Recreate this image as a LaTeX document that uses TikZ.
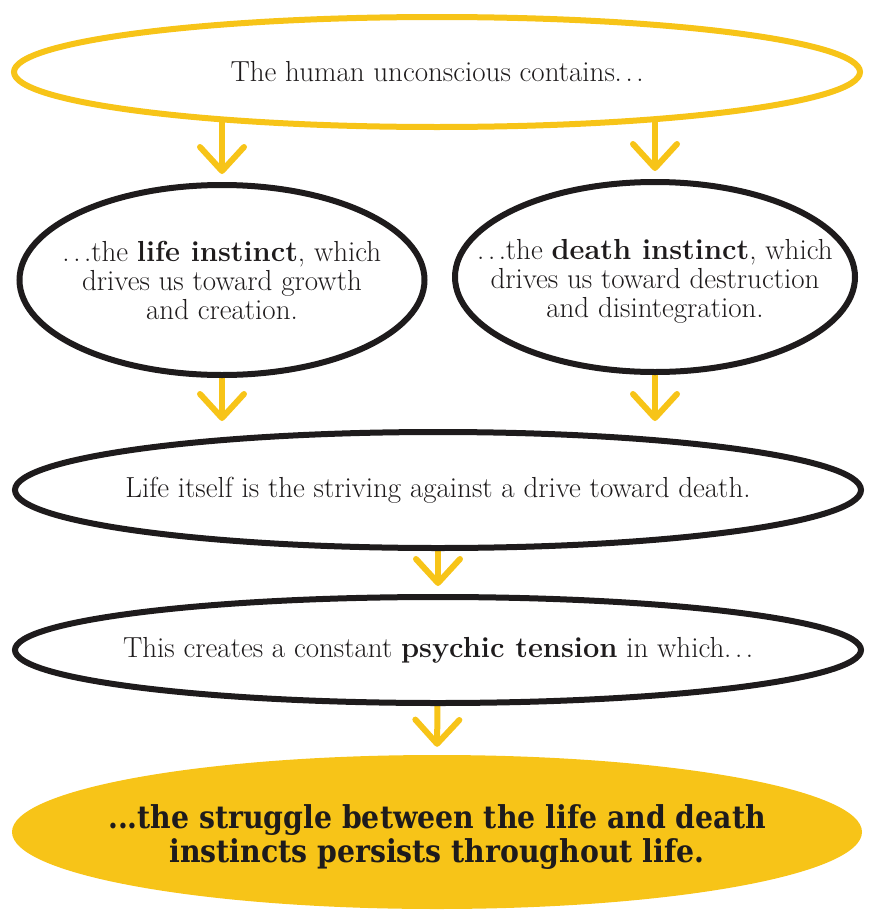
\documentclass[tikz,border=0pt]{standalone}
\usepackage{fontspec}
\usepackage{tikz}
\usetikzlibrary{shapes.geometric, arrows.meta, backgrounds}
\newfontfamily\slabfont{DejaVu Serif Condensed}
\definecolor{mustard}{RGB}{247,196,24}
\definecolor{ink}{RGB}{30,27,28}

\begin{document}
\begin{tikzpicture}[x=1pt, y=-1pt,
  bubble/.style={ellipse, draw=ink, line width=6pt, fill=white, inner sep=0pt},
  note/.style={align=center, text=ink, inner sep=0pt,
               font=\fontsize{29}{29}\selectfont},
  endnote/.style={align=center, text=ink, inner sep=0pt,
                  font=\slabfont\bfseries\fontsize{31.5}{34}\selectfont},
  arrow/.style={-{Straight Barb[length=24pt, width=44pt, round]},
                line width=6pt, draw=mustard, shorten >=8pt}
]
\useasboundingbox (0,0) rectangle (872,913);

% ellipses
\node[bubble, draw=mustard, minimum width=846pt, minimum height=110pt] (unconscious) at (437,72) {};
\node[bubble, minimum width=405pt, minimum height=190pt] (life)  at (222,280) {};
\node[bubble, minimum width=400pt, minimum height=190pt] (death) at (655,277) {};
\node[bubble, minimum width=846pt, minimum height=116pt] (striving) at (438,490) {};
\node[bubble, minimum width=846pt, minimum height=106pt] (tension)  at (438,650) {};
\node[ellipse, fill=mustard, inner sep=0pt, minimum width=850pt, minimum height=154pt] (struggle) at (437,832) {};

% texts
\node[note] (uncon-text) at (unconscious) {The human unconscious contains$\ldots$};
\node[note] (life-text)  at (life)  {$\ldots$the \textbf{life instinct}, which\\drives us toward growth\\and creation.};
\node[note] (death-text) at ([yshift=-4pt]death.center) {$\ldots$the \textbf{death instinct}, which\\drives us toward destruction\\and disintegration.};
\node[note] (striv-text) at (striving) {Life itself is the striving against a drive toward death.};
\node[note] (tens-text)  at (tension)  {This creates a constant \textbf{psychic tension} in which$\ldots$};
\node[endnote] (strug-text) at ([yshift=-5pt]struggle.center) {...the struggle between the life and death\\instincts persists throughout life.};

% arrows
\begin{scope}[on background layer]
\draw[arrow] (unconscious.center -| life.north)  -- (life.north);
\draw[arrow] (unconscious.center -| death.north) -- (death.north);
\draw[arrow] (life.center)  -- (life.center |- striving.north);
\draw[arrow] (death.center) -- (death.center |- striving.north);
\draw[arrow] (striving.center) -- (tension.north);
\draw[arrow] (tension.center)  -- (struggle.north);
\end{scope}
\end{tikzpicture}
\end{document}
